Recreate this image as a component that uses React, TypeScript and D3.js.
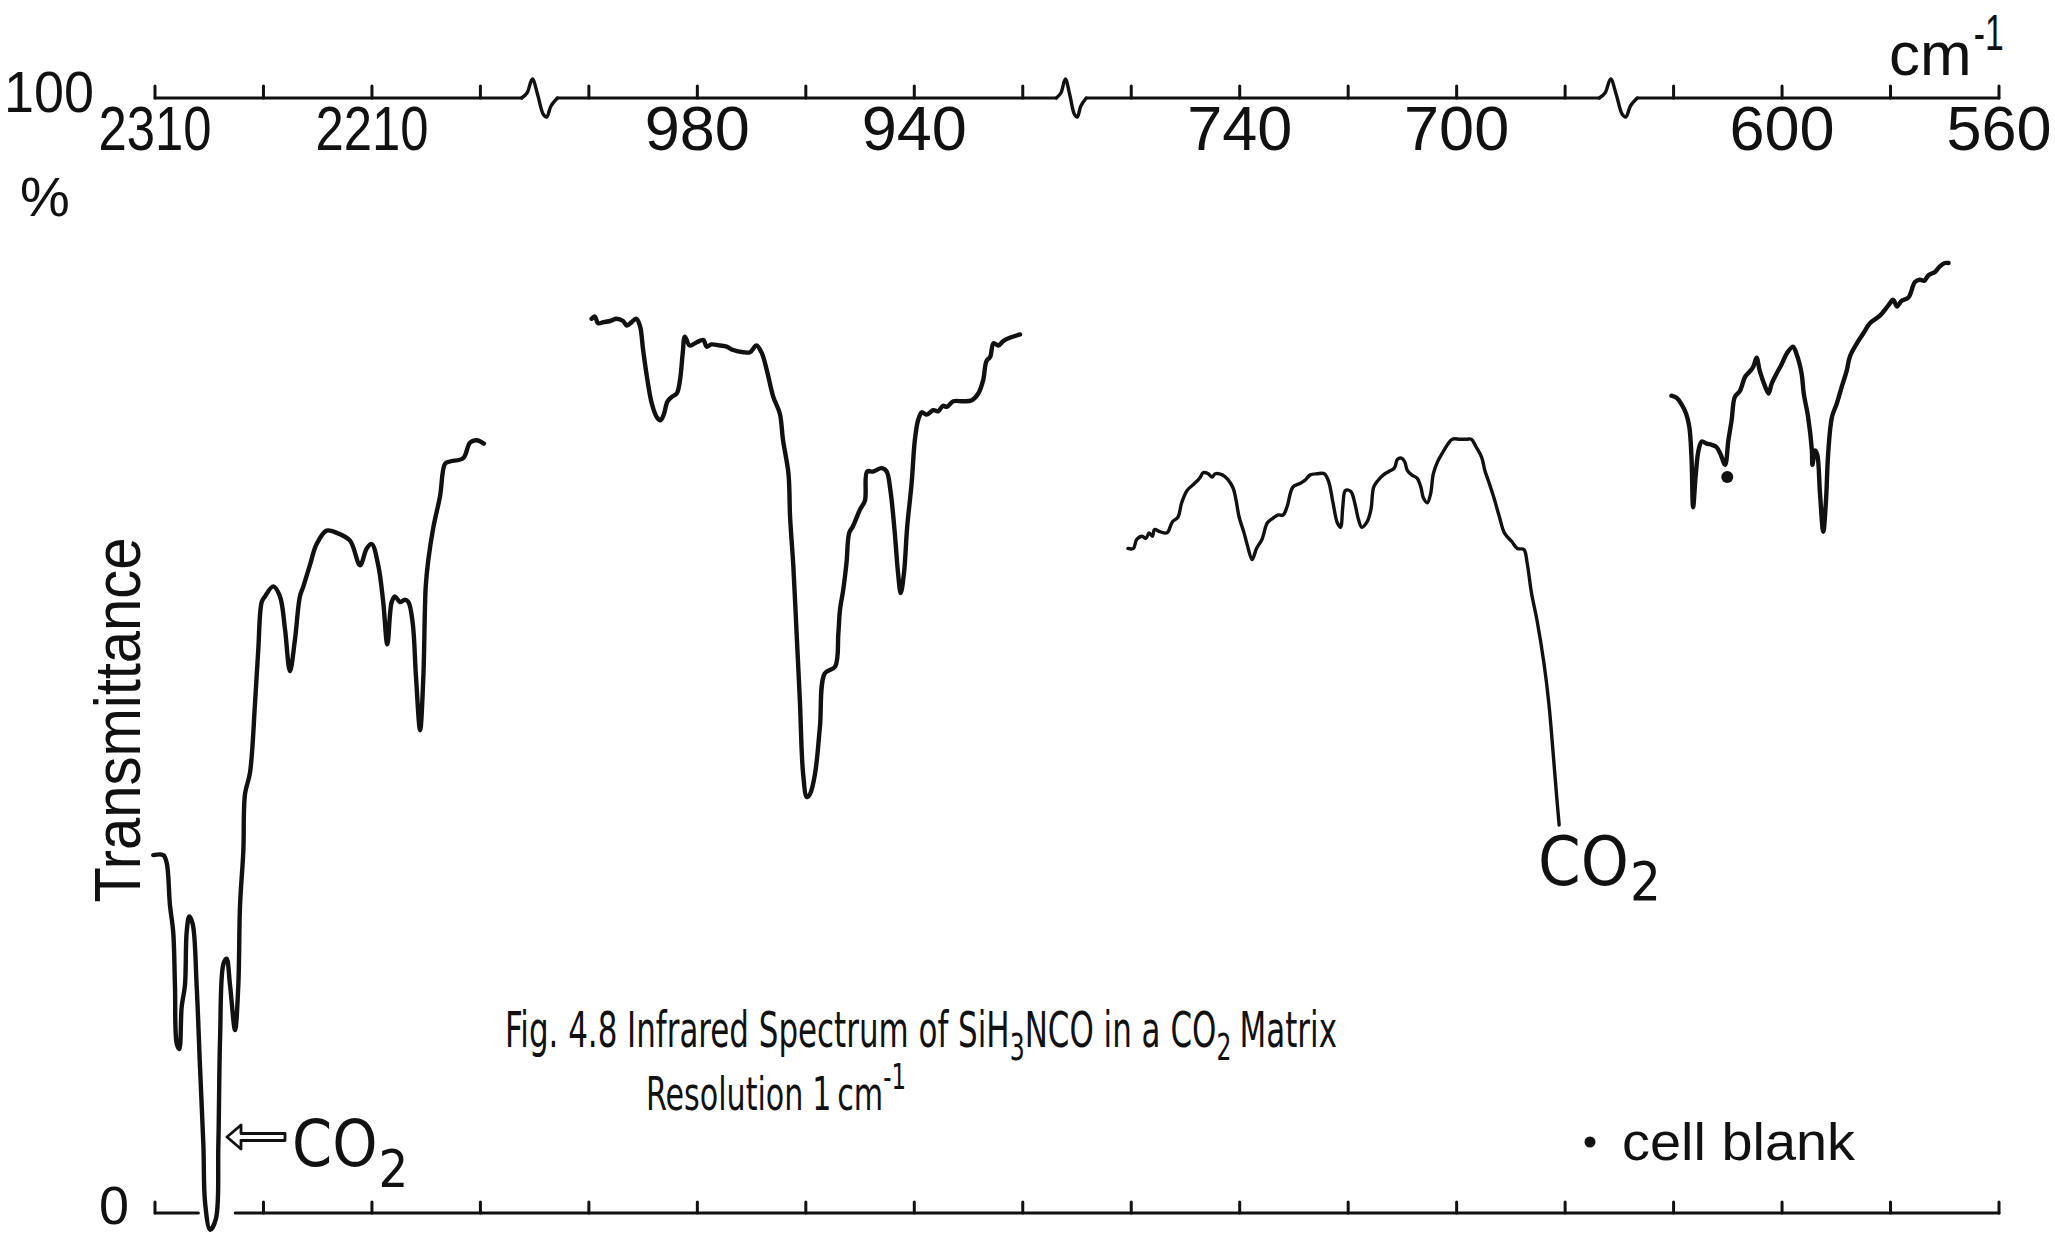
import React, { useEffect, useRef } from 'react';
import * as d3 from 'd3';

const WIDTH = 2055;
const HEIGHT = 1237;

const FONT = "'Liberation Sans', Arial, sans-serif";
const NARROW = "'Liberation Sans Narrow', 'DejaVu Sans Condensed', 'Liberation Sans', sans-serif";

// chart paper has 18 evenly spaced ticks on both frame lines
const paperTicks = d3.range(18);

// wavenumber ticks (cm-1) of the four panels of the broken axis
const seg1Ticks = [2310, 2260, 2210, 2160];
const seg2Ticks = [1000, 980, 960, 940, 920];
const seg3Ticks = [760, 740, 720, 700, 680];
const seg4Ticks = [620, 600, 580, 560];
const tickLabels = [2310, 2210, 980, 940, 740, 700, 600, 560];

// where the axis line of each panel starts / stops (cm-1)
const seg1Span = [2310, 2141];
const seg2Span = [1005.8, 913.8];
const seg3Span = [768.3, 673.7];
const seg4Span = [626.7, 560];

// traces, [wavenumber, % transmittance]
const seg1Trace = [
  [2310.8, 32.1], [2306.2, 32.1], [2304.6, 31.4], [2303.1, 27.6], [2301.6, 25.2], [2300.8, 20.4],
  [2300.0, 15.2], [2298.8, 14.7], [2297.7, 18.5], [2296.2, 20.4], [2295.4, 25.2], [2294.2, 26.6],
  [2292.6, 25.9], [2290.8, 20.4], [2289.3, 13.3], [2287.7, 6.1], [2286.9, 0.9], [2284.6, -1.5],
  [2281.9, -0.5], [2280.8, 6.1], [2280.0, 15.7], [2278.5, 22.3], [2277.0, 22.8], [2275.4, 20.4],
  [2273.1, 16.4], [2271.6, 20.4], [2270.8, 27.6], [2269.3, 32.4], [2268.5, 37.6], [2266.2, 39.5],
  [2263.9, 45.7], [2262.4, 50.5], [2260.8, 54.8], [2259.3, 55.3], [2255.5, 56.2], [2252.4, 55.3],
  [2250.1, 52.4], [2247.8, 48.6], [2245.5, 51.4], [2243.2, 55.3], [2241.6, 56.2], [2238.6, 58.1],
  [2235.5, 60.0], [2230.9, 61.2], [2226.2, 61.0], [2220.1, 60.3], [2215.5, 58.1], [2212.4, 59.6],
  [2210.1, 60.0], [2207.1, 58.1], [2204.8, 54.8], [2202.9, 51.0], [2200.9, 54.8], [2199.4, 55.3],
  [2197.1, 54.8], [2194.8, 55.0], [2193.2, 54.8], [2191.2, 52.9], [2189.7, 48.1], [2187.8, 43.3],
  [2186.3, 48.1], [2185.2, 56.2], [2184.0, 58.6], [2181.7, 61.5], [2178.6, 64.3], [2176.3, 67.2],
  [2174.0, 67.4], [2167.9, 67.7], [2164.8, 69.1], [2161.7, 69.3], [2158.4, 69.0],
];

const seg2Trace = [
  [999.5, 80.2], [998.9, 80.4], [998.3, 79.8], [997.3, 79.9], [996.1, 80.0], [994.9, 80.2],
  [993.7, 80.0], [993.0, 79.6], [992.1, 79.9], [991.3, 80.2], [990.6, 79.6], [990.0, 77.4],
  [989.3, 75.0], [988.4, 72.6], [987.5, 71.4], [986.8, 71.1], [986.2, 71.6], [985.5, 72.8],
  [984.7, 73.2], [983.8, 73.5], [983.2, 74.7], [982.7, 77.1], [982.3, 78.6], [981.4, 77.8],
  [980.1, 78.1], [978.9, 78.3], [978.3, 77.7], [977.4, 77.9], [975.8, 77.8], [974.6, 77.7],
  [973.4, 77.4], [971.5, 77.2], [970.3, 77.2], [969.1, 77.8], [968.1, 77.1], [967.2, 75.6],
  [966.0, 73.2], [964.8, 71.7], [964.2, 69.3], [963.2, 66.3], [962.9, 62.4], [962.3, 58.0],
  [961.7, 52.0], [961.1, 46.0], [960.5, 39.4], [959.8, 37.3], [959.2, 37.6], [958.3, 39.4],
  [957.4, 43.6], [956.5, 48.4], [954.6, 49.0], [954.0, 52.0], [953.7, 54.1], [953.1, 55.9],
  [952.5, 58.3], [952.0, 61.0], [951.3, 61.6], [950.0, 63.1], [949.1, 63.9], [948.7, 66.5],
  [947.6, 66.5], [946.0, 66.8], [945.1, 66.5], [944.4, 64.8], [943.6, 61.0], [943.0, 57.4],
  [942.5, 55.6], [941.9, 57.4], [941.3, 61.6], [940.5, 65.4], [939.9, 69.3], [939.3, 71.1],
  [938.6, 71.8], [937.7, 71.6], [936.5, 72.0], [935.6, 71.9], [934.7, 72.4], [934.0, 72.3],
  [932.8, 72.8], [931.0, 72.8], [929.4, 72.9], [928.2, 73.5], [927.3, 74.7], [926.7, 76.4],
  [926.0, 76.8], [925.4, 78.0], [924.5, 77.8], [923.6, 78.2], [922.4, 78.5], [920.5, 78.8],
];

const seg3Trace = [
  [760.6, 59.6], [759.6, 59.6], [759.0, 60.4], [758.0, 60.7], [757.3, 60.5], [756.7, 61.0],
  [756.1, 60.7], [755.7, 61.3], [754.7, 61.1], [753.4, 61.0], [752.4, 62.0], [751.4, 62.4],
  [750.7, 63.7], [749.7, 64.8], [748.4, 65.4], [747.4, 65.9], [746.7, 66.4], [745.8, 66.3],
  [745.1, 66.0], [744.5, 66.3], [743.2, 66.2], [742.2, 65.8], [741.2, 65.0], [740.7, 64.0],
  [740.1, 62.4], [739.2, 61.0], [738.6, 59.9], [737.7, 58.6], [736.9, 59.6], [735.9, 60.4],
  [734.9, 61.9], [733.9, 62.3], [733.0, 62.6], [732.0, 62.6], [731.3, 63.3], [730.2, 65.1],
  [729.0, 65.4], [728.0, 65.7], [727.0, 66.2], [725.7, 66.3], [724.4, 66.3], [723.6, 65.6],
  [722.8, 63.7], [722.0, 61.9], [721.4, 61.5], [721.0, 63.3], [720.5, 64.8], [719.5, 64.7],
  [718.8, 63.7], [718.1, 62.2], [717.5, 61.5], [716.5, 62.0], [715.8, 63.1], [715.3, 65.1],
  [714.5, 65.7], [713.5, 66.2], [712.5, 66.5], [711.5, 66.8], [710.9, 67.6], [710.2, 67.7],
  [709.6, 67.4], [709.1, 66.6], [708.3, 66.2], [707.3, 65.9], [706.6, 65.1], [706.1, 64.1],
  [705.4, 63.7], [704.8, 64.5], [704.3, 66.3], [703.5, 67.4], [702.7, 68.1], [701.7, 68.9],
  [700.8, 69.4], [699.4, 69.4], [698.1, 69.4], [697.3, 69.4], [696.4, 68.7], [695.4, 67.8],
  [694.8, 66.6], [694.1, 65.6], [693.1, 64.1], [692.1, 62.4], [691.2, 61.0], [689.8, 60.2],
  [688.8, 59.6], [687.6, 59.5], [687.0, 58.3], [686.2, 55.6], [685.2, 53.2], [683.9, 49.3],
  [683.0, 45.7], [682.2, 41.2], [681.6, 37.6], [681.1, 34.8],
];

const seg4Trace = [
  [620.4, 73.3], [619.4, 73.1], [618.5, 72.5], [617.7, 71.7], [617.1, 70.5], [616.7, 67.8],
  [616.4, 63.3], [615.9, 66.3], [615.4, 68.4], [614.8, 69.2], [613.9, 69.0], [613.0, 68.9],
  [612.1, 68.7], [611.3, 68.0], [610.5, 67.1], [609.9, 69.3], [609.3, 71.1], [608.7, 73.2],
  [607.8, 73.7], [606.8, 75.0], [605.9, 75.5], [605.3, 75.9], [604.7, 76.7], [604.1, 75.5],
  [603.1, 74.1], [602.5, 73.5], [601.9, 74.4], [601.0, 75.3], [600.1, 76.1], [599.1, 77.1],
  [598.0, 77.7], [597.3, 77.0], [596.4, 75.3], [596.0, 73.5], [595.2, 71.4], [594.5, 68.4],
  [594.4, 67.1], [593.9, 68.4], [593.5, 68.0], [593.0, 64.5], [592.4, 61.1], [591.9, 63.9],
  [591.5, 68.1], [590.8, 71.4], [589.9, 72.6], [589.0, 74.1], [588.1, 75.5], [587.5, 76.8],
  [586.2, 78.0], [585.0, 78.9], [583.8, 79.8], [581.9, 80.5], [580.4, 81.4], [579.5, 81.9],
  [578.8, 81.3], [578.0, 81.8], [576.7, 82.1], [575.5, 83.5], [574.6, 83.7], [573.8, 83.6],
  [573.0, 84.1], [571.8, 84.4], [570.9, 84.9], [570.0, 85.2], [569.3, 85.2],
];

// band marked as due to the cell blank
const cellBlankMarks = [[610.1, 66.0]];

const segments = [
  { ticks: seg1Ticks, span: seg1Span, trace: seg1Trace, firstTick: 0, lw: 4.4 },
  { ticks: seg2Ticks, span: seg2Span, trace: seg2Trace, firstTick: 4, lw: 4.4 },
  { ticks: seg3Ticks, span: seg3Span, trace: seg3Trace, firstTick: 9, lw: 3.4 },
  { ticks: seg4Ticks, span: seg4Span, trace: seg4Trace, firstTick: 14, lw: 4.4 },
];

// caption pieces: text, shift (1 = subscript, -1 = superscript), extra gap after
const captionLine1: [string, number, number][] = [
  ['Fig. 4.8  Infrared Spectrum of SiH', 0, 0],
  ['3', 1, 0],
  ['NCO in a CO', 0, 0],
  ['2', 1, 12],
  ['Matrix', 0, 0],
];
const captionLine2: [string, number, number][] = [
  ['Resolution', 0, 12],
  ['1', 0, 8],
  ['cm', 0, 0],
  ['-1', -1, 0],
];

// axis break squiggle, as fractions of the gap width / pixel offsets
const squiggle = [[0, 0], [0.15, -5], [0.3, -19], [0.45, -3], [0.6, 16], [0.7, 19], [0.82, 8], [1, 0]];

const App = () => {
  const svgRef = useRef<SVGSVGElement>(null);

  useEffect(() => {
    document.body.style.margin = '0';
    const svg = d3.select(svgRef.current);
    svg.selectAll('*').remove();
    svg.attr('width', WIDTH).attr('height', HEIGHT);
    svg.append('rect').attr('width', WIDTH).attr('height', HEIGHT).attr('fill', '#fff');

    const ink = '#111';
    const paper = d3.scaleLinear().domain([0, 17]).range([155, 1999]);
    const y = d3.scaleLinear().domain([0, 100]).range([1213, 98]);
    const top = y(100);
    const bottom = y(0);

    const panels = segments.map(s => {
      const last = s.ticks.length - 1;
      const x = d3.scaleLinear()
        .domain([s.ticks[0], s.ticks[last]])
        .range([paper(s.firstTick), paper(s.firstTick + last)]);
      return { ...s, x };
    });

    // top frame: one piece per panel with squiggles at the breaks
    const g = svg.append('g').attr('stroke', ink).attr('fill', 'none')
      .attr('stroke-width', 3).attr('stroke-linecap', 'round');
    panels.forEach((p, i) => {
      g.append('line')
        .attr('x1', p.x(p.span[0])).attr('x2', p.x(p.span[1]))
        .attr('y1', top).attr('y2', top);
      p.ticks.forEach(t => {
        g.append('line').attr('x1', p.x(t)).attr('x2', p.x(t))
          .attr('y1', top).attr('y2', top - 12);
      });
      const next = panels[i + 1];
      if (next) {
        const x0 = p.x(p.span[1]);
        const x1 = next.x(next.span[0]);
        const wl = d3.line().curve(d3.curveCatmullRom.alpha(0.5));
        g.append('path').attr('stroke-width', 3.4)
          .attr('d', wl(squiggle.map(([f, dy]) => [x0 + f * (x1 - x0), top + dy]) as any));
      }
    });

    // bottom frame, broken where the CO2 band runs through it
    const s1 = panels[0].x;
    g.append('line').attr('x1', paper(0)).attr('x2', s1(2290))
      .attr('y1', bottom).attr('y2', bottom);
    g.append('line').attr('x1', s1(2273)).attr('x2', paper(17))
      .attr('y1', bottom).attr('y2', bottom);
    paperTicks.forEach(i => {
      g.append('line').attr('x1', paper(i)).attr('x2', paper(i))
        .attr('y1', bottom).attr('y2', bottom - 11);
    });

    // traces
    panels.forEach(p => {
      const line = d3.line<number[]>()
        .x(d => p.x(d[0]))
        .y(d => y(d[1]))
        .curve(d3.curveCatmullRom.alpha(0.5));
      svg.append('path')
        .attr('d', line(p.trace))
        .attr('fill', 'none')
        .attr('stroke', ink)
        .attr('stroke-width', p.lw)
        .attr('stroke-linejoin', 'round')
        .attr('stroke-linecap', 'round');
    });

    svg.selectAll('.blank')
      .data(cellBlankMarks)
      .enter()
      .append('circle')
      .attr('cx', d => panels[3].x(d[0]))
      .attr('cy', d => y(d[1]))
      .attr('r', 6)
      .attr('fill', ink);

    // text helper
    const txt = (x: number, yy: number, s: string, size: number, opts: any = {}) => {
      const t = svg.append('text')
        .attr('x', x).attr('y', yy)
        .attr('font-family', opts.family || FONT)
        .attr('font-size', size)
        .attr('fill', ink)
        .attr('text-anchor', opts.anchor || 'start')
        .text(s);
      if (opts.len) t.attr('textLength', opts.len).attr('lengthAdjust', 'spacingAndGlyphs');
      if (opts.transform) t.attr('transform', opts.transform);
      return t;
    };
    const endOf = (t: any) => {
      const b = (t.node() as SVGTextElement).getBBox();
      return b.x + b.width;
    };

    // tick labels on the top frame
    panels.forEach(p => {
      p.ticks.filter(t => tickLabels.includes(t)).forEach(t => {
        const s = String(t);
        txt(p.x(t), top + 52, s, 63, { anchor: 'middle', len: s.length === 4 ? 113 : undefined });
      });
    });

    txt(4, 112, '100', 58, { len: 90 });
    txt(20, 216, '%', 56);
    txt(99, 1224, '0', 54);
    const cm = txt(1889, 75, 'cm', 62);
    txt(endOf(cm) + 2, 50, '-1', 50, { len: 30 });
    txt(140, 720, 'Transmittance', 64, { anchor: 'middle', len: 365, transform: 'rotate(-90,140,720)' });

    // CO2 labels
    const co1 = txt(292, 1166, 'CO', 64, { family: NARROW });
    txt(endOf(co1) + 1, 1187, '2', 52, { family: NARROW });
    const co2 = txt(1538, 885, 'CO', 68, { family: NARROW });
    txt(endOf(co2) + 1, 900, '2', 54, { family: NARROW });
    // hollow arrow pointing at the CO2 band
    svg.append('path')
      .attr('d', 'M227,1137 L241,1125 L241,1133.5 L285,1133.5 L285,1140.5 L241,1140.5 L241,1149 Z')
      .attr('fill', 'none').attr('stroke', ink).attr('stroke-width', 2.8)
      .attr('stroke-linejoin', 'round');

    // cell blank key
    svg.append('circle').attr('cx', 1590).attr('cy', 1142).attr('r', 5.5).attr('fill', ink);
    txt(1622, 1160, 'cell blank', 51, { len: 233 });

    // caption lines, laid out piece by piece and then squeezed to their widths
    const caption = (pieces: [string, number, number][], x: number, yy: number, width: number, size: number) => {
      const cap = svg.append('g');
      let cx = 0;
      pieces.forEach(([s, shift, gap]) => {
        const t = cap.append('text')
          .attr('x', cx).attr('y', shift > 0 ? size * 0.25 : shift < 0 ? -size * 0.45 : 0)
          .attr('font-family', NARROW)
          .attr('font-size', shift ? size * 0.76 : size)
          .attr('fill', ink)
          .text(s);
        cx += (t.node() as SVGTextElement).getComputedTextLength() + gap;
      });
      cap.attr('transform', `translate(${x},${yy}) scale(${width / cx},1)`);
    };
    caption(captionLine1, 505, 1047, 832, 50);
    caption(captionLine2, 646, 1110, 260, 46);
  }, []);

  return <svg ref={svgRef} style={{ display: 'block' }} />;
};

export default App;
